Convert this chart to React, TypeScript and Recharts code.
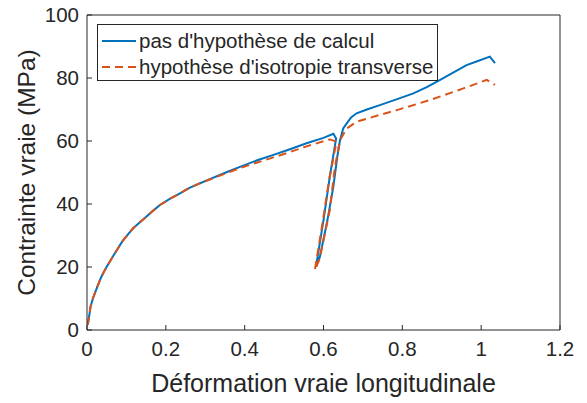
import React from "react";
import { LineChart, Line, XAxis, YAxis, Legend, Label } from "recharts";

// courbe bleue : pas d'hypothèse de calcul
const calculX = [
  0.002, 0.005, 0.009, 0.015, 0.026, 0.035, 0.043, 0.05, 0.068, 0.09, 0.105,
  0.117, 0.135, 0.151, 0.168, 0.185, 0.21, 0.236, 0.26, 0.287, 0.31, 0.337,
  0.36, 0.388, 0.43, 0.473, 0.515, 0.557, 0.6, 0.625, 0.632, 0.616, 0.6, 0.581,
  0.591, 0.61, 0.625, 0.635, 0.642, 0.65, 0.659, 0.67, 0.684, 0.71, 0.743,
  0.785, 0.828, 0.862, 0.896, 0.93, 0.963, 0.99, 1.022, 1.035,
];
const calculY = [
  1.6, 4, 7.4, 10, 13.7, 16.5, 18.5, 20.1, 23.8, 28.2, 30.5, 32.3, 34.3, 36,
  37.9, 39.7, 41.6, 43.4, 45.1, 46.6, 47.8, 49.2, 50.4, 51.8, 53.8, 55.6, 57.4,
  59.3, 61, 62.3, 60.8, 48.7, 34.9, 20.1, 23.3, 34.9, 45.5, 55, 60.3, 64, 65.6,
  67.5, 68.8, 70, 71.4, 73.2, 75.1, 77.1, 79.4, 81.8, 84.1, 85.3, 86.8, 84.7,
];

// courbe orange : hypothèse d'isotropie transverse
const isoX = [
  0.002, 0.005, 0.009, 0.015, 0.026, 0.035, 0.043, 0.05, 0.068, 0.09, 0.105,
  0.117, 0.135, 0.151, 0.168, 0.185, 0.21, 0.236, 0.26, 0.287, 0.31, 0.337,
  0.36, 0.388, 0.43, 0.473, 0.515, 0.557, 0.616, 0.633, 0.614, 0.597, 0.578,
  0.59, 0.616, 0.629, 0.642, 0.659, 0.684, 0.735, 0.786, 0.87, 0.955, 1.014,
  1.035,
];
const isoY = [
  1.6, 4, 7.4, 10, 13.7, 16.5, 18.5, 20.1, 23.8, 28.2, 30.5, 32.3, 34.3, 36,
  37.9, 39.7, 41.6, 43.4, 45.1, 46.6, 47.7, 49, 50.1, 51.4, 53.1, 54.8, 56.5,
  58.3, 60.5, 59.8, 47.5, 33.5, 19, 22.5, 38.1, 51.8, 60.3, 64, 66.1, 68,
  69.8, 73, 76.7, 79.4, 77.8,
];

const xTicks = [0, 0.2, 0.4, 0.6, 0.8, 1, 1.2];
const yTicks = [0, 20, 40, 60, 80, 100];

const seriesNames = ["pas d'hypothèse de calcul", "hypothèse d'isotropie transverse"];

const calculData = calculX.map((x, i) => ({ x, y: calculY[i] }));
const isoData = isoX.map((x, i) => ({ x, y: isoY[i] }));

const INK = "#262626";
const FONT = "'Liberation Sans', Arial, sans-serif";
const TICK_MARGIN = 10;
const TICK_LEN = 5;

const XTick = (props: any) => {
  const { x, y, payload } = props;
  const axisY = y - TICK_MARGIN;
  return (
    <g>
      <line x1={x} x2={x} y1={axisY} y2={axisY - TICK_LEN} stroke={INK} />
      <text x={x} y={y} dy={16} textAnchor="middle" fill={INK} fontSize={20.5} fontFamily={FONT}>
        {payload.value}
      </text>
    </g>
  );
};

const YTick = (props: any) => {
  const { x, y, payload } = props;
  const axisX = x + TICK_MARGIN;
  return (
    <g>
      <line x1={axisX} x2={axisX + TICK_LEN} y1={y} y2={y} stroke={INK} />
      <text x={x + 2} y={y} dy={7} textAnchor="end" fill={INK} fontSize={20.5} fontFamily={FONT}>
        {payload.value}
      </text>
    </g>
  );
};

const LegendBox = (props: any) => {
  // keep the plotting order, not the alphabetical one
  const items = [...(props.payload || [])].sort(
    (a: any, b: any) => seriesNames.indexOf(a.value) - seriesNames.indexOf(b.value),
  );
  return (
    <div
      style={{
        border: `1px solid ${INK}`,
        background: "#fff",
        padding: "3px 4px 0 4px",
        fontFamily: FONT,
        fontSize: 20.5,
        color: INK,
        width: 341,
        boxSizing: "border-box",
      }}
    >
      {items.map((entry: any, i: number) => (
        <div key={i} style={{ display: "flex", alignItems: "center", height: 26 }}>
          <svg width={34} height={10} style={{ marginRight: 3, flexShrink: 0 }}>
            <line
              x1={0}
              x2={34}
              y1={5}
              y2={5}
              stroke={entry.color}
              strokeWidth={2}
              strokeDasharray={entry.payload?.strokeDasharray}
            />
          </svg>
          <span style={{ whiteSpace: "nowrap" }}>{entry.value}</span>
        </div>
      ))}
    </div>
  );
};

export default function App() {
  return (
    <div style={{ position: "absolute", left: 0, top: 0, background: "#fff" }}>
      <LineChart width={587} height={403} margin={{ top: 15, right: 27, bottom: 0, left: 0 }}>
        <XAxis
          xAxisId="bas"
          dataKey="x"
          type="number"
          domain={[0, 1.2]}
          ticks={xTicks}
          allowDataOverflow
          height={73}
          tickSize={0}
          tickMargin={TICK_MARGIN}
          tickLine={false}
          axisLine={{ stroke: INK }}
          tick={<XTick />}
        >
          <Label
            value="Déformation vraie longitudinale"
            position="insideBottom"
            offset={11}
            fill={INK}
            fontSize={25}
            fontFamily={FONT}
          />
        </XAxis>
        <XAxis
          xAxisId="haut"
          orientation="top"
          mirror
          type="number"
          domain={[0, 1.2]}
          ticks={xTicks}
          allowDataOverflow
          tick={false}
          tickSize={TICK_LEN}
          tickLine={{ stroke: INK }}
          axisLine={{ stroke: INK }}
        />
        <YAxis
          yAxisId="gauche"
          type="number"
          domain={[0, 100]}
          ticks={yTicks}
          allowDataOverflow
          width={87}
          tickSize={0}
          tickMargin={TICK_MARGIN}
          tickLine={false}
          axisLine={{ stroke: INK }}
          tick={<YTick />}
        >
          <Label
            value="Contrainte vraie (MPa)"
            angle={-90}
            position="insideLeft"
            offset={26}
            fill={INK}
            fontSize={24.5}
            fontFamily={FONT}
            style={{ textAnchor: "middle" }}
          />
        </YAxis>
        <YAxis
          yAxisId="droite"
          orientation="right"
          mirror
          type="number"
          domain={[0, 100]}
          ticks={yTicks}
          allowDataOverflow
          tick={false}
          tickSize={TICK_LEN}
          tickLine={{ stroke: INK }}
          axisLine={{ stroke: INK }}
        />
        <Legend
          layout="vertical"
          align="center"
          verticalAlign="middle"
          wrapperStyle={{ left: 97, top: 24, width: 341 }}
          content={<LegendBox />}
        />
        <Line
          xAxisId="bas"
          yAxisId="gauche"
          data={calculData}
          dataKey="y"
          name={seriesNames[0]}
          type="linear"
          stroke="#0072BD"
          strokeWidth={2}
          dot={false}
          isAnimationActive={false}
        />
        <Line
          xAxisId="bas"
          yAxisId="gauche"
          data={isoData}
          dataKey="y"
          name={seriesNames[1]}
          type="linear"
          stroke="#D95319"
          strokeWidth={2}
          strokeDasharray="8 5"
          dot={false}
          isAnimationActive={false}
        />
      </LineChart>
    </div>
  );
}
